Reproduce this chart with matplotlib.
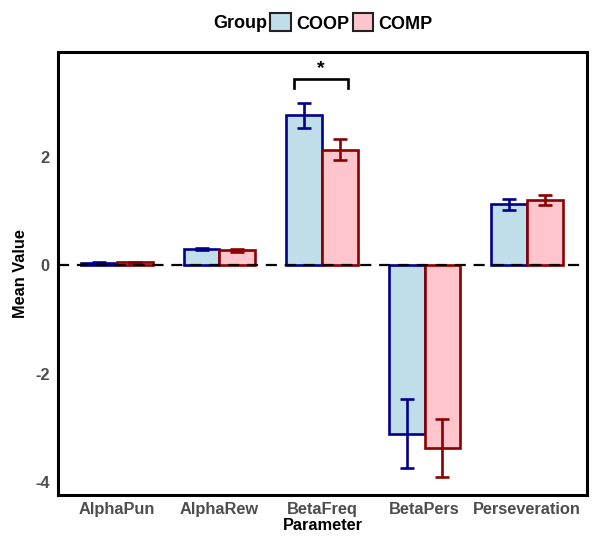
import matplotlib
matplotlib.use('Agg')
import matplotlib.pyplot as plt
from matplotlib.patches import Patch
import numpy as np

plt.rcParams['font.family'] = ['Liberation Sans', 'DejaVu Sans']
plt.rcParams['font.weight'] = 'bold'
plt.rcParams['axes.unicode_minus'] = False

# Model parameter means and standard errors per group
params = ['AlphaPun', 'AlphaRew', 'BetaFreq', 'BetaPers', 'Perseveration']
coop_mean = [0.04, 0.29, 2.76, -3.11, 1.12]
coop_se = [0.01, 0.02, 0.23, 0.64, 0.10]
comp_mean = [0.05, 0.27, 2.13, -3.37, 1.20]
comp_se = [0.01, 0.02, 0.20, 0.53, 0.09]

coop_fill, coop_edge = '#C0DDEA', '#00008B'
comp_fill, comp_edge = '#FFC5CD', '#8B0000'

fig = plt.figure(figsize=(5.93, 5.36), dpi=100)
ax = fig.add_axes([58/593, 41/536, 529/593, 443/536])

x = np.arange(1, len(params) + 1)
w = 0.35

ax.bar(x - w/2, coop_mean, width=w, color=coop_fill, edgecolor=coop_edge, linewidth=1.9, zorder=2)
ax.bar(x + w/2, comp_mean, width=w, color=comp_fill, edgecolor=comp_edge, linewidth=1.9, zorder=2)
ax.errorbar(x - w/2, coop_mean, yerr=coop_se, fmt='none', ecolor=coop_edge,
            elinewidth=1.9, capsize=4.8, capthick=1.9, zorder=3)
ax.errorbar(x + w/2, comp_mean, yerr=comp_se, fmt='none', ecolor=comp_edge,
            elinewidth=1.9, capsize=4.8, capthick=1.9, zorder=3)

# zero reference line, drawn over the bars
ax.axhline(0, color='black', linewidth=1.6, dashes=(5, 3.5), zorder=4)

# significance bracket on BetaFreq
bx0, bx1, by, bleg = 2.73, 3.25, 3.44, 3.27
ax.plot([bx0, bx0, bx1, bx1], [bleg, by, by, bleg], color='black', linewidth=1.9,
        solid_joinstyle='miter', zorder=5)
ax.text((bx0 + bx1) / 2, by + 0.02, '*', ha='center', va='bottom', fontsize=14,
        fontweight='bold', color='black')

ax.set_xlim(0.425, 5.585)
ax.set_ylim(-4.24, 3.93)
ax.set_xticks(x)
ax.set_xticklabels(params)
ax.set_yticks([-4, -2, 0, 2])
ax.tick_params(axis='both', length=0, labelsize=11.8, labelcolor='#4D4D4D')
ax.tick_params(axis='x', pad=5)
ax.tick_params(axis='y', pad=6)
for lab in ax.get_xticklabels() + ax.get_yticklabels():
    lab.set_fontweight('bold')

for sp in ax.spines.values():
    sp.set_linewidth(2.2)
    sp.set_color('black')

ax.set_xlabel('Parameter', fontsize=11.8, fontweight='bold', labelpad=1)
ax.set_ylabel('Mean Value', fontsize=11.8, fontweight='bold', labelpad=5)

# legend on top: title to the left of the keys
fig.text(267/593, 1 - 23/536, 'Group', ha='right', va='center', fontsize=13, fontweight='bold')
handles = [Patch(facecolor=coop_fill, edgecolor='#222222', linewidth=1.5, label='COOP'),
           Patch(facecolor=comp_fill, edgecolor='#222222', linewidth=1.5, label='COMP')]
leg = fig.legend(handles=handles, loc='center left', bbox_to_anchor=(270/593, 1 - 23/536),
                 ncol=2, frameon=False, fontsize=13, handlelength=1.15, handleheight=1.15,
                 handletextpad=0.28, columnspacing=0.2, borderpad=0, borderaxespad=0)
for t in leg.get_texts():
    t.set_fontweight('bold')

fig.savefig('out.png', dpi=100)
